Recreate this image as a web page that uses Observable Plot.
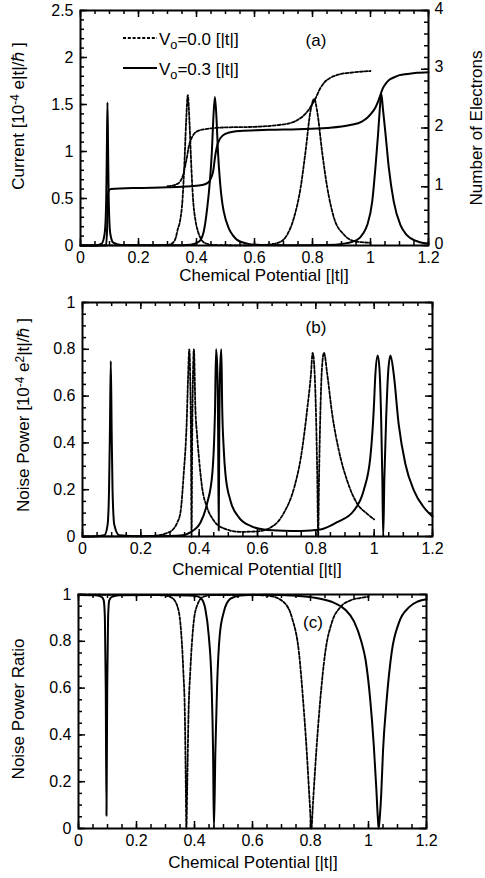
<!DOCTYPE html>
<html><head><meta charset="utf-8">
<script src="https://cdn.jsdelivr.net/npm/d3@7"></script>
<script src="https://cdn.jsdelivr.net/npm/@observablehq/plot@0.6"></script>
<style>
body{margin:0;background:#fff;}
#wrap{position:relative;width:485px;height:878px;}
#wrap svg{position:absolute;left:0;}
</style></head><body><div id="wrap"></div>
<script>
// ---------- data ----------
const xTicks = [0, 0.2, 0.4, 0.6, 0.8, 1, 1.2];
const aTicks = [0, 0.5, 1, 1.5, 2, 2.5];
const electronTicks = [0, 1, 2, 3, 4];
const bTicks = [0, 0.2, 0.4, 0.6, 0.8, 1];
const cTicks = [0, 0.2, 0.4, 0.6, 0.8, 1];
const legendLabels = ["=0.0 [|t|]", "=0.3 [|t|]"];

// (a) current, V0 = 0.3 (solid)
const currentV03 = [[0,0],[0.05,0.001],[0.073,0.02],[0.083,0.12],[0.087,0.3],[0.089,0.55],[0.091,1.05],[0.093,1.52],[0.095,1.05],[0.097,0.55],[0.099,0.3],[0.103,0.12],[0.113,0.03],[0.14,0.005],[0.25,0.002],[0.35,0.003],[0.38,0.008],[0.408,0.04],[0.425,0.15],[0.437,0.4],[0.446,0.68],[0.453,1.0],[0.458,1.35],[0.4635,1.58],[0.469,1.35],[0.474,1.0],[0.481,0.68],[0.489,0.45],[0.494,0.36],[0.511,0.185],[0.525,0.11],[0.54,0.06],[0.575,0.02],[0.62,0.006],[0.75,0.003],[0.85,0.005],[0.908,0.02],[0.954,0.06],[0.975,0.13],[0.989,0.22],[1.006,0.47],[1.017,0.83],[1.026,1.18],[1.032,1.45],[1.037,1.62],[1.043,1.45],[1.052,1.18],[1.063,0.83],[1.08,0.47],[1.103,0.22],[1.12,0.13],[1.138,0.078],[1.17,0.035],[1.2,0.02]];
// (a) current, V0 = 0.0 (dashed)
const currentV00 = [[0,0],[0.25,0.002],[0.3,0.006],[0.315,0.02],[0.322,0.04],[0.328,0.078],[0.336,0.18],[0.343,0.256],[0.352,0.5],[0.358,0.85],[0.364,1.3],[0.37,1.6],[0.376,1.3],[0.382,0.85],[0.388,0.5],[0.397,0.256],[0.405,0.15],[0.414,0.078],[0.43,0.025],[0.46,0.006],[0.55,0.002],[0.62,0.005],[0.66,0.015],[0.69,0.04],[0.713,0.117],[0.736,0.295],[0.759,0.615],[0.776,1.0],[0.793,1.43],[0.806,1.56],[0.816,1.43],[0.833,1.0],[0.851,0.615],[0.874,0.295],[0.908,0.117],[0.943,0.046],[0.97,0.035],[1.0,0.028]];
// (a) number of electrons (right axis)
const electronsV03 = [[0,0],[0.088,0],[0.092,0.32],[0.094,0.8],[0.097,0.93],[0.105,0.96],[0.2,0.98],[0.3,0.99],[0.38,1.01],[0.42,1.03],[0.44,1.07],[0.452,1.17],[0.458,1.28],[0.463,1.47],[0.467,1.6],[0.472,1.71],[0.48,1.81],[0.49,1.87],[0.51,1.92],[0.55,1.95],[0.65,1.97],[0.75,1.98],[0.85,2.0],[0.93,2.05],[0.97,2.11],[0.99,2.18],[1.005,2.26],[1.017,2.35],[1.027,2.46],[1.034,2.56],[1.042,2.67],[1.052,2.75],[1.065,2.82],[1.08,2.86],[1.1,2.9],[1.127,2.92],[1.16,2.94],[1.2,2.95]];
const electronsV00 = [[0.3,1.01],[0.33,1.04],[0.345,1.1],[0.355,1.22],[0.362,1.38],[0.367,1.5],[0.372,1.65],[0.38,1.79],[0.39,1.89],[0.405,1.95],[0.43,1.98],[0.5,2.01],[0.6,2.02],[0.68,2.05],[0.72,2.08],[0.75,2.14],[0.775,2.24],[0.795,2.37],[0.81,2.5],[0.825,2.66],[0.84,2.77],[0.86,2.85],[0.89,2.91],[0.93,2.94],[0.97,2.96],[1.0,2.97]];
// (b) noise power
const noiseV03 = [[0,0],[0.05,0.001],[0.075,0.005],[0.086,0.05],[0.091,0.2],[0.094,0.45],[0.097,0.75],[0.1,0.45],[0.103,0.2],[0.109,0.05],[0.126,0.005],[0.2,0.001],[0.3,0.002],[0.336,0.004],[0.37,0.018],[0.405,0.061],[0.427,0.14],[0.445,0.268],[0.451,0.4],[0.454,0.52],[0.458,0.8],[0.462,0.72],[0.465,0.45],[0.467,0.026],[0.469,0.45],[0.472,0.72],[0.476,0.8],[0.479,0.55],[0.484,0.38],[0.49,0.268],[0.507,0.154],[0.536,0.082],[0.576,0.045],[0.622,0.03],[0.69,0.025],[0.75,0.024],[0.816,0.03],[0.873,0.061],[0.93,0.11],[0.964,0.197],[0.987,0.34],[0.999,0.553],[1.004,0.69],[1.012,0.774],[1.018,0.72],[1.024,0.5],[1.028,0.25],[1.031,0.0],[1.035,0.25],[1.041,0.5],[1.049,0.72],[1.056,0.774],[1.067,0.695],[1.084,0.48],[1.107,0.31],[1.136,0.197],[1.17,0.125],[1.2,0.085]];
const noiseV00 = [[0,0],[0.2,0.001],[0.25,0.004],[0.29,0.015],[0.31,0.03],[0.325,0.06],[0.336,0.104],[0.347,0.268],[0.357,0.48],[0.362,0.68],[0.366,0.8],[0.369,0.7],[0.372,0.4],[0.374,0.0],[0.376,0.4],[0.379,0.7],[0.382,0.8],[0.387,0.55],[0.393,0.43],[0.399,0.34],[0.41,0.21],[0.427,0.125],[0.45,0.068],[0.484,0.035],[0.54,0.02],[0.6,0.022],[0.656,0.047],[0.69,0.1],[0.726,0.21],[0.749,0.34],[0.771,0.55],[0.783,0.69],[0.789,0.785],[0.795,0.72],[0.801,0.5],[0.805,0.25],[0.808,0.0],[0.811,0.25],[0.815,0.5],[0.821,0.72],[0.828,0.785],[0.839,0.695],[0.856,0.524],[0.879,0.367],[0.907,0.24],[0.942,0.14],[0.976,0.097],[1.0,0.073]];
// (c) noise power ratio
const ratioV03 = [[0,0.998],[0.06,0.997],[0.08,0.99],[0.087,0.975],[0.091,0.9],[0.094,0.6],[0.0965,0.055],[0.099,0.6],[0.102,0.9],[0.106,0.975],[0.115,0.99],[0.14,0.997],[0.3,0.998],[0.38,0.996],[0.41,0.992],[0.425,0.98],[0.437,0.94],[0.449,0.826],[0.459,0.613],[0.464,0.33],[0.467,0.0],[0.472,0.33],[0.478,0.613],[0.487,0.826],[0.501,0.925],[0.524,0.982],[0.559,0.996],[0.65,0.999],[0.75,0.995],[0.82,0.985],[0.88,0.965],[0.92,0.935],[0.95,0.885],[0.975,0.8],[0.99,0.72],[1.006,0.55],[1.018,0.36],[1.027,0.17],[1.032,0.05],[1.035,0.0],[1.039,0.05],[1.044,0.15],[1.05,0.33],[1.062,0.54],[1.08,0.754],[1.105,0.88],[1.14,0.946],[1.17,0.97],[1.2,0.98]];
const ratioV00 = [[0,0.999],[0.25,0.998],[0.3,0.995],[0.323,0.985],[0.34,0.953],[0.352,0.868],[0.361,0.684],[0.367,0.47],[0.37,0.187],[0.372,0.0],[0.375,0.187],[0.379,0.47],[0.386,0.684],[0.396,0.868],[0.409,0.953],[0.43,0.99],[0.46,0.997],[0.6,0.998],[0.662,0.993],[0.708,0.967],[0.737,0.897],[0.76,0.754],[0.775,0.54],[0.787,0.33],[0.797,0.118],[0.803,0.0],[0.809,0.118],[0.82,0.33],[0.833,0.54],[0.851,0.754],[0.874,0.882],[0.903,0.946],[0.938,0.975],[0.97,0.985],[1.0,0.99]];

// ---------- drawing ----------
const FONT = '"Liberation Sans", Arial, Helvetica, sans-serif';
const W = 485;
const E2A = 2.5 / 4; // electrons -> current axis units
const fmt = d => String(+(+d).toFixed(2));

function tickMarks(ph, pw, xMaj, xMin, yMajL, yMinL, yMajR, yMinR) {
  const M = 7, m = 4, sw = 1.5;
  return [
    Plot.tickX(xMaj, {x: d => d, insetTop: ph - M, strokeWidth: sw}),
    Plot.tickX(xMaj, {x: d => d, insetBottom: ph - M, strokeWidth: sw}),
    Plot.tickX(xMin, {x: d => d, insetTop: ph - m, strokeWidth: sw}),
    Plot.tickX(xMin, {x: d => d, insetBottom: ph - m, strokeWidth: sw}),
    Plot.tickY(yMajL, {y: d => d, insetRight: pw - M, strokeWidth: sw}),
    Plot.tickY(yMinL, {y: d => d, insetRight: pw - m, strokeWidth: sw}),
    Plot.tickY(yMajR, {y: d => d, insetLeft: pw - M, strokeWidth: sw}),
    Plot.tickY(yMinR, {y: d => d, insetLeft: pw - m, strokeWidth: sw})
  ];
}
const solid = {stroke: "black", strokeWidth: 2, curve: "monotone-x"};
const dashed = {stroke: "black", strokeWidth: 1.8, strokeDasharray: "3,1.8", curve: "monotone-x"};
const xMinor = d3.range(0, 1.2001, 0.05);

function makePlot(cfg) {
  const ph = cfg.height - cfg.mt - cfg.mb, pw = W - cfg.ml - cfg.mr;
  const p = Plot.plot({
    width: W, height: cfg.height,
    marginTop: cfg.mt, marginBottom: cfg.mb, marginLeft: cfg.ml, marginRight: cfg.mr,
    x: {domain: [0, 1.2]}, y: {domain: cfg.yDomain},
    style: {fontFamily: FONT, fontSize: "16px", color: "black", background: "white"},
    marks: [
      ...cfg.lines,
      Plot.frame({stroke: "black", strokeWidth: 2}),
      ...tickMarks(ph, pw, xTicks, xMinor, cfg.yMajL, cfg.yMinL, cfg.yMajR, cfg.yMinR),
      Plot.axisX({ticks: xTicks, tickSize: 0, tickPadding: 6, tickFormat: fmt, label: null, fontSize: 16}),
      Plot.axisY({ticks: cfg.yTicks, tickSize: 0, tickPadding: 7, tickFormat: fmt, label: null, fontSize: 16}),
      ...(cfg.extra || [])
    ]
  });
  p.style.top = cfg.top + "px";
  document.getElementById("wrap").appendChild(p);
  return d3.select(p);
}

function addText(svg, x, y, parts, opts = {}) {
  const t = svg.append("text")
    .attr("font-family", FONT).attr("font-size", opts.size || 17).attr("fill", "black")
    .attr("text-anchor", opts.anchor || "start");
  if (opts.rotate) t.attr("transform", `translate(${x},${y}) rotate(-90)`).attr("dy", "0.35em");
  else t.attr("x", x).attr("y", y);
  for (const p of parts) {
    const s = t.append("tspan").text(p.t);
    if (p.sup) s.attr("font-size", "0.7em").attr("baseline-shift", "45%");
    if (p.sub) s.attr("font-size", "0.75em").attr("baseline-shift", "-30%");
  }
  return t;
}

// Panel (a)
const A = makePlot({
  top: 0, height: 290, mt: 10, mb: 45, ml: 80, mr: 57, yDomain: [0, 2.5],
  yTicks: aTicks, yMajL: aTicks, yMinL: d3.range(0, 2.5001, 0.1),
  yMajR: electronTicks.map(e => e * E2A), yMinR: d3.range(0, 4.001, 0.2).map(e => e * E2A),
  lines: [
    Plot.line(currentV00, {x: d => d[0], y: d => d[1], ...dashed}),
    Plot.line(electronsV00, {x: d => d[0], y: d => d[1] * E2A, ...dashed}),
    Plot.line(currentV03, {x: d => d[0], y: d => d[1], ...solid}),
    Plot.line(electronsV03, {x: d => d[0], y: d => d[1] * E2A, ...solid})
  ],
  extra: [
    Plot.axisY({anchor: "right", ticks: electronTicks.map(e => e * E2A), tickSize: 0, tickPadding: 6, dy: -2,
      tickFormat: d => String(Math.round(d / E2A)), label: null, fontSize: 16})
  ]
});
A.append("line").attr("x1", 123).attr("x2", 157).attr("y1", 38).attr("y2", 38)
  .attr("stroke", "black").attr("stroke-width", 1.8).attr("stroke-dasharray", "3,1.8");
A.append("line").attr("x1", 123).attr("x2", 157).attr("y1", 68).attr("y2", 68)
  .attr("stroke", "black").attr("stroke-width", 2);
addText(A, 159, 45, [{t: "V"}, {t: "o", sub: true}, {t: legendLabels[0]}]);
addText(A, 159, 75, [{t: "V"}, {t: "o", sub: true}, {t: legendLabels[1]}]);
addText(A, 316, 46, [{t: "(a)"}], {anchor: "middle"});
addText(A, 264, 281, [{t: "Chemical Potential [|t|]"}], {anchor: "middle"});
addText(A, 18, 116, [{t: "Current [10"}, {t: "-4", sup: true}, {t: " e|t|/\u210F ]"}], {anchor: "middle", rotate: true});
addText(A, 476, 128, [{t: "Number of Electrons"}], {anchor: "middle", rotate: true});

// Panel (b)
const B = makePlot({
  top: 290, height: 290, mt: 12, mb: 44, ml: 82, mr: 53, yDomain: [0, 1],
  yTicks: bTicks, yMajL: bTicks, yMinL: d3.range(0, 1.0001, 0.05),
  yMajR: bTicks, yMinR: d3.range(0, 1.0001, 0.05),
  lines: [
    Plot.line(noiseV00, {x: d => d[0], y: d => d[1], ...dashed}),
    Plot.line(noiseV03, {x: d => d[0], y: d => d[1], ...solid})
  ]
});
addText(B, 316, 43, [{t: "(b)"}], {anchor: "middle"});
addText(B, 257, 285, [{t: "Chemical Potential [|t|]"}], {anchor: "middle"});
addText(B, 23, 125, [{t: "Noise Power [10"}, {t: "-4", sup: true}, {t: " e"}, {t: "2", sup: true}, {t: "|t|/\u210F ]"}], {anchor: "middle", rotate: true});

// Panel (c)
const C = makePlot({
  top: 580, height: 298, mt: 14, mb: 50, ml: 78, mr: 59, yDomain: [0, 1],
  yTicks: cTicks, yMajL: cTicks, yMinL: d3.range(0, 1.0001, 0.05),
  yMajR: cTicks, yMinR: d3.range(0, 1.0001, 0.05),
  lines: [
    Plot.line(ratioV00, {x: d => d[0], y: d => d[1], ...dashed}),
    Plot.line(ratioV03, {x: d => d[0], y: d => d[1], ...solid})
  ]
});
addText(C, 313, 48, [{t: "(c)"}], {anchor: "middle"});
addText(C, 253, 288, [{t: "Chemical Potential [|t|]"}], {anchor: "middle"});
addText(C, 18, 129, [{t: "Noise Power Ratio"}], {anchor: "middle", rotate: true});
</script></body></html>
